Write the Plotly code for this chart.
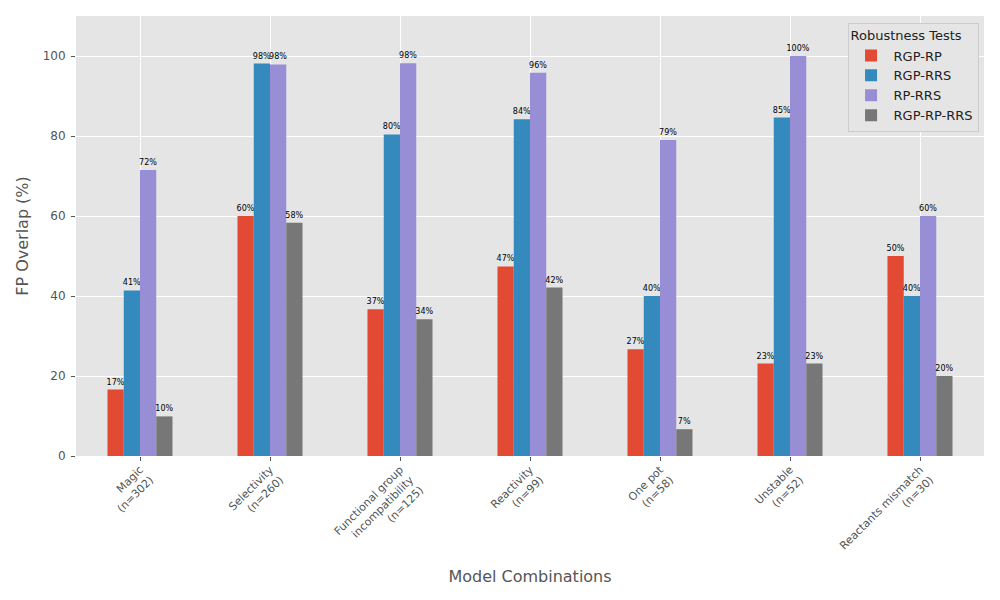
import plotly.graph_objects as go

categories = ["Magic<br>(n=302)", "Selectivity<br>(n=260)",
              "Functional group<br>incompatibility<br>(n=125)",
              "Reactivity<br>(n=99)", "One pot<br>(n=58)",
              "Unstable<br>(n=52)", "Reactants mismatch<br>(n=30)"]
series_names = ["RGP-RP", "RGP-RRS", "RP-RRS", "RGP-RP-RRS"]
rgp_rp = [16.6, 60.0, 36.7, 47.4, 26.7, 23.1, 50.0]
rgp_rrs = [41.4, 98.1, 80.4, 84.2, 40.0, 84.6, 40.0]
rp_rrs = [71.5, 97.9, 98.2, 95.8, 79.0, 100.0, 60.0]
rgp_rp_rrs = [9.9, 58.3, 34.2, 42.1, 6.7, 23.1, 20.0]
values = [rgp_rp, rgp_rrs, rp_rrs, rgp_rp_rrs]
colors = ["#E24A33", "#348ABD", "#988ED5", "#777777"]

font = "DejaVu Sans"
fig = go.Figure()
for name, vals, col in zip(series_names, values, colors):
    fig.add_trace(go.Bar(
        x=list(range(len(categories))), y=vals, name=name,
        marker=dict(color=col, line=dict(width=0)),
        text=[f"{v:.0f}%" for v in vals], textposition="outside",
        textfont=dict(family=font, size=8, color="#000000"),
        constraintext="none", cliponaxis=False,
    ))

fig.update_layout(
    width=1000, height=600,
    margin=dict(l=68, r=24, t=8, b=152),
    paper_bgcolor="white", plot_bgcolor="#E5E5E5",
    barmode="group", bargap=0.5, bargroupgap=0,
    font=dict(family=font, color="#555555"),
    showlegend=True,
    legend=dict(
        title=dict(text="Robustness Tests", font=dict(family=font, size=13, color="#222222")),
        font=dict(family=font, size=13, color="#222222"),
        x=0.994, y=0.985, xanchor="right", yanchor="top",
        bgcolor="#E5E5E5", bordercolor="#CCCCCC", borderwidth=1,
        tracegroupgap=2, itemwidth=35,
    ),
    xaxis=dict(
        tickmode="array", tickvals=list(range(len(categories))), ticktext=categories,
        range=[-0.4923, 6.4923], tickangle=-45,
        tickfont=dict(family=font, size=11, color="#555555"),
        ticks="outside", ticklen=4, tickcolor="#555555", ticklabelstandoff=-2,
        showgrid=True, gridcolor="white", gridwidth=1, zeroline=False,
        title=dict(text="Model Combinations", font=dict(family=font, size=16, color="#555555"), standoff=9),
    ),
    yaxis=dict(
        range=[0, 110], tickvals=[0, 20, 40, 60, 80, 100],
        tickfont=dict(family=font, size=12, color="#555555"),
        ticks="outside", ticklen=4, tickcolor="#555555", ticklabelstandoff=3,
        showgrid=True, gridcolor="white", gridwidth=1, zeroline=False,
        title=dict(text="FP Overlap (%)", font=dict(family=font, size=16, color="#555555"), standoff=10),
    ),
)
fig.write_html("out.html")
